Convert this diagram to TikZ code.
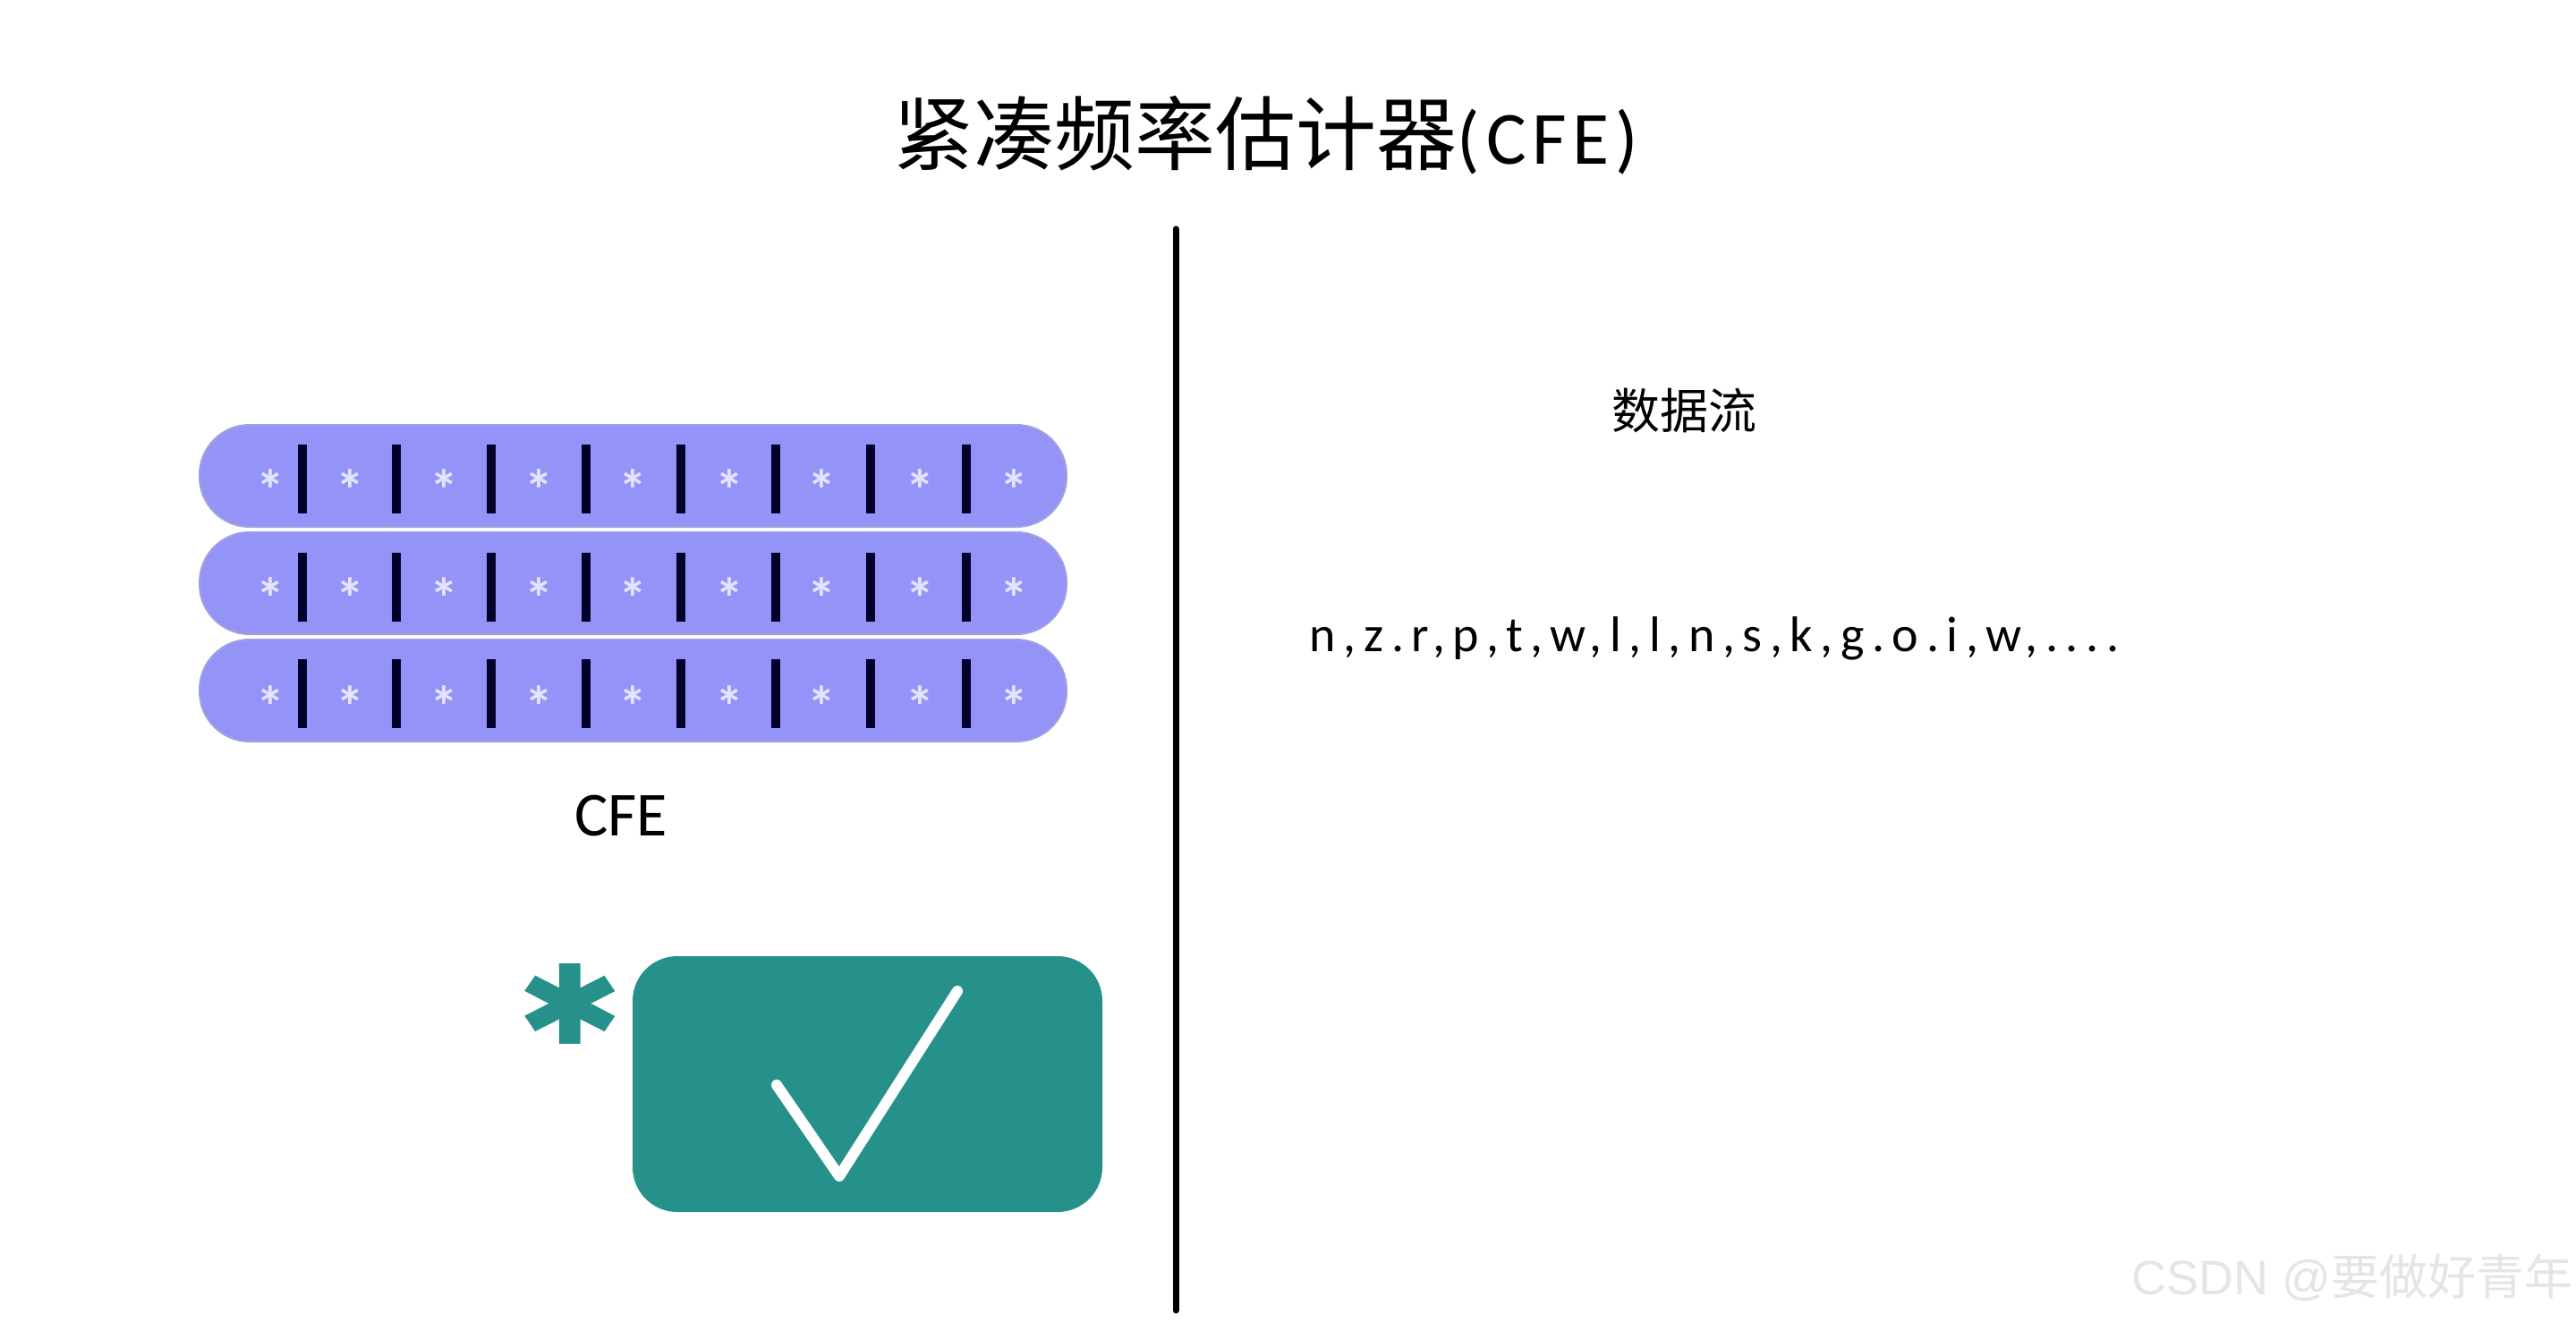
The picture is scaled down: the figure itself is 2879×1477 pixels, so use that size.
\documentclass[tikz,border=0pt]{standalone}
\usepackage{fontspec}
\setmainfont{Carlito}
\newfontfamily\cjk{Noto Sans CJK SC}
\newfontfamily\spaced[LetterSpace=15.3]{Carlito}
\newfontfamily\titlespaced[LetterSpace=8]{Carlito}
\newfontfamily\wm{Liberation Sans}
\newfontfamily\astfont[UprightFont=* Bold,FakeBold=2]{Carlito}
\definecolor{bandfill}{HTML}{9494F8}
\definecolor{bandedge}{HTML}{A0A0E0}
\definecolor{barcol}{HTML}{00002A}
\definecolor{starcol}{HTML}{E4E4FF}
\definecolor{teal1}{HTML}{26918A}
\tikzset{
  bandbox/.style={draw=bandedge,line width=1pt,fill=bandfill,rounded corners=28pt},
  barline/.style={draw=barcol,line width=5pt},
  starmark/.style={inner sep=0pt,text=starcol,font=\fontsize{32pt}{32pt}\selectfont\bfseries},
  plain/.style={inner sep=0pt,text=black},
}
\begin{document}
\begin{tikzpicture}[x=0.5pt,y=-0.5pt]
\useasboundingbox (0,0) rectangle (2879,1477);
\fill[white] (0,0) rectangle (2879,1477);
\node[plain,anchor=center] (title) at (1415,151) {{\fontsize{45pt}{50pt}\selectfont\cjk 紧凑频率估计器}{\fontsize{42pt}{50pt}\selectfont\titlespaced (CFE)}};
\coordinate (divtop) at (1314,256);
\coordinate (divbot) at (1314,1465);
\draw[line width=3.5pt,line cap=round] (divtop) -- (divbot);
\foreach \row/\ya/\yb/\ba/\bb/\sy in {a/475/589/497/574/548, b/595/709/618/695/669, c/715/829/737/814/790}{
  \draw[bandbox] (223,\ya) rectangle (1192,\yb);
  \foreach \bx in {338,442.5,549,655,761,867,973,1080}{
    \draw[barline] (\bx,\ba) -- (\bx,\bb);
  }
  \foreach \sx in {302,391,496,602,707,815,918,1028,1133}{
    \node[starmark] at (\sx,\sy) {*};
  }
}
\node[plain] (cfe) at (694,912) {\fontsize{35pt}{40pt}\selectfont CFE};
\node[plain] (flow) at (1882,459) {\fontsize{27pt}{32pt}\selectfont\cjk 数据流};
\node[plain] (stream) at (1916,714) {\fontsize{28pt}{32pt}\selectfont\spaced n,z.r,p,t,w,l,l,n,s,k,g.o.i,w,....};
\draw[fill=teal1,draw=none,rounded corners=25pt] (707,1069) rectangle (1232,1355);
\node[inner sep=0pt,yscale=0.87,text=teal1,font=\fontsize{150pt}{150pt}\selectfont\astfont] (ast) at (637,1173) {*};
\draw[white,line width=6pt,line cap=round,line join=round] (868,1213) -- (938,1315) -- (1070,1108);
\node[inner sep=0pt,text=black!10,anchor=east] (mark) at (2876,1428) {\fontsize{27pt}{32pt}\selectfont{\wm CSDN @}{\cjk 要做好青年}};
\end{tikzpicture}
\end{document}
